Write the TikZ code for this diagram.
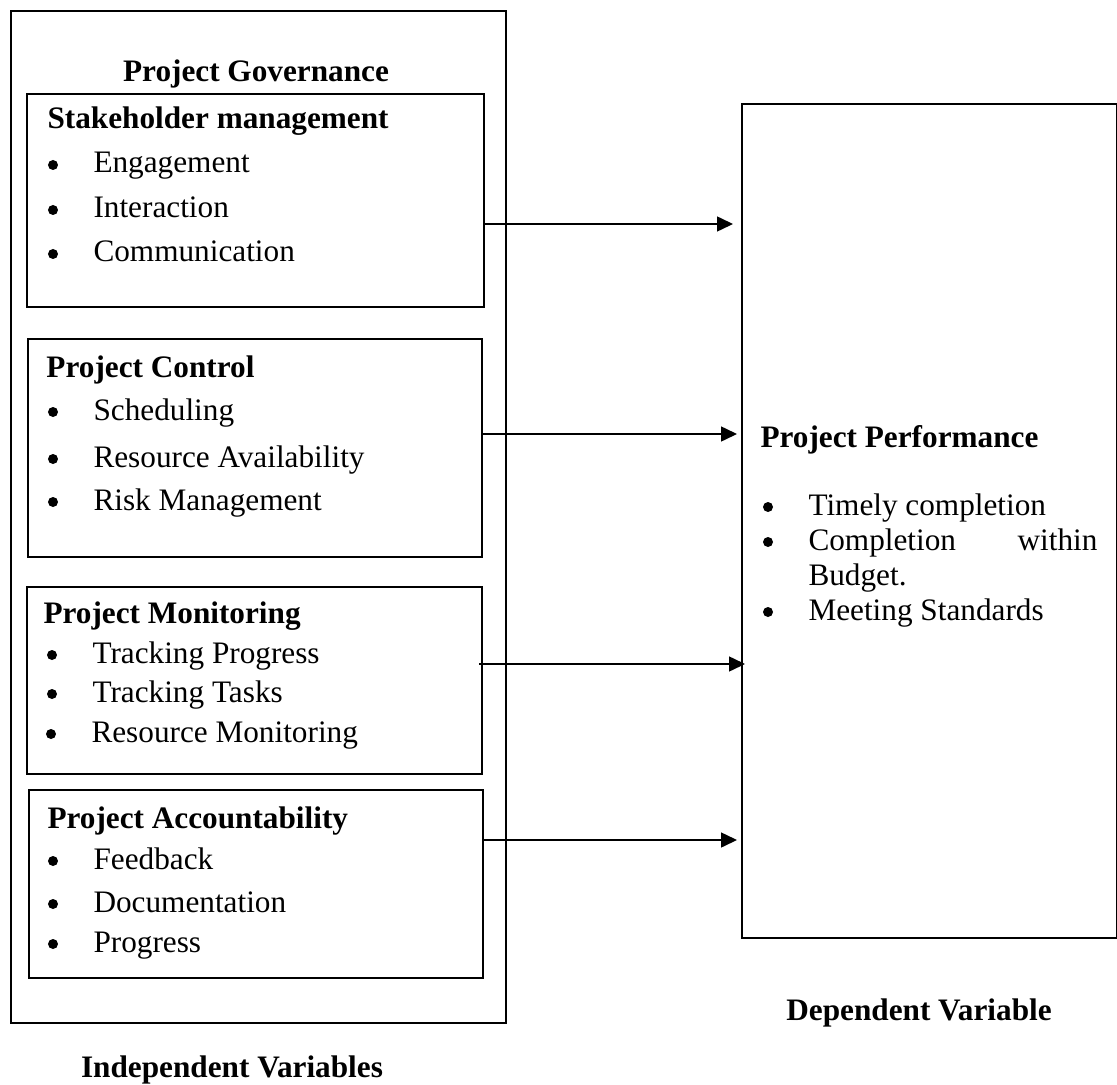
\documentclass[tikz,border=0pt]{standalone}
\usepackage{fontspec}
\setmainfont{Liberation Serif}
\usetikzlibrary{arrows.meta}
\newcommand{\bul}{\makebox[18.8pt][l]{\hspace{0.6pt}\raisebox{1.2pt}{\tikz\fill (0pt, 0pt) circle (2pt);}}}

\begin{document}
\begin{tikzpicture}[x=0.4pt, y=-0.4pt, font=\fontsize{12.5}{15}\selectfont,
    box/.style={draw, line width=0.8pt, inner sep=0pt, anchor=north west},
    txt/.style={inner sep=0pt, anchor=base west},
    head/.style={txt, font=\fontsize{12.5}{15}\selectfont\bfseries},
    arr/.style={-{Triangle[length=6.4pt, width=6pt]}, line width=0.6pt}]
    \useasboundingbox (0, 0) rectangle (1117, 1084);

    \node[box, minimum width=198pt, minimum height=404.8pt] (gov) at (10, 10) {};
    \node[head, anchor=base] (govtitle) at (256, 82) {Project Governance};

    \node[box, minimum width=182.8pt, minimum height=85.2pt] (stake) at (26, 93) {};
    \node[head] (stakeh) at (47, 129) {Stakeholder management};
    \node[txt] (stake1) at (46, 173) {\bul Engagement};
    \node[txt] (stake2) at (46, 218) {\bul Interaction};
    \node[txt] (stake3) at (46, 262) {\bul Communication};

    \node[box, minimum width=181.6pt, minimum height=87.2pt] (ctrl) at (27, 338) {};
    \node[head] (ctrlh) at (46, 377) {Project Control};
    \node[txt] (ctrl1) at (46, 420) {\bul Scheduling};
    \node[txt] (ctrl2) at (46, 467) {\bul Resource Availability};
    \node[txt] (ctrl3) at (46, 510) {\bul Risk Management};

    \node[box, minimum width=182pt, minimum height=74.8pt] (mon) at (26, 586) {};
    \node[head] (monh) at (43, 623) {Project Monitoring};
    \node[txt] (mon1) at (45, 663) {\bul Tracking Progress};
    \node[txt] (mon2) at (45, 702) {\bul Tracking Tasks};
    \node[txt] (mon3) at (44, 742) {\bul Resource Monitoring};

    \node[box, minimum width=181.6pt, minimum height=75.2pt] (acc) at (28, 789) {};
    \node[head] (acch) at (47, 828) {Project Accountability};
    \node[txt] (acc1) at (46, 869) {\bul Feedback};
    \node[txt] (acc2) at (46, 912) {\bul Documentation};
    \node[txt] (acc3) at (46, 952) {\bul Progress};

    \node[box, minimum width=150pt, minimum height=333.6pt] (perf) at (741, 103) {};
    \node[head] (perfh) at (760, 447) {Project Performance};
    \node[txt] (perf1) at (761, 515) {\bul Timely completion};
    \node[txt] (perf2) at (761, 550) {\bul\makebox[115.6pt][s]{Completion\hfill within}};
    \node[txt] (perf2b) at (808, 585) {Budget.};
    \node[txt] (perf3) at (761, 620) {\bul Meeting Standards};

    \node[head, anchor=base] (dep) at (919, 1020) {Dependent Variable};
    \node[head, anchor=base] (indep) at (232, 1077) {Independent Variables};

    \draw[arr, shorten >=3.2pt] ([yshift=-9.4pt]stake.east) -- ([yshift=-9.4pt]stake.east -| perf.west);
    \draw[arr, shorten >=1.6pt] ([yshift=5.6pt]ctrl.east) -- ([yshift=5.6pt]ctrl.east -| perf.west);
    \draw[arr, shorten >=-1.6pt] ([xshift=-1.6pt, yshift=6.6pt]mon.east) -- ([yshift=6.6pt]mon.east -| perf.west);
    \draw[arr, shorten >=1.6pt] ([yshift=17.6pt]acc.east) -- ([yshift=17.6pt]acc.east -| perf.west);
\end{tikzpicture}
\end{document}
